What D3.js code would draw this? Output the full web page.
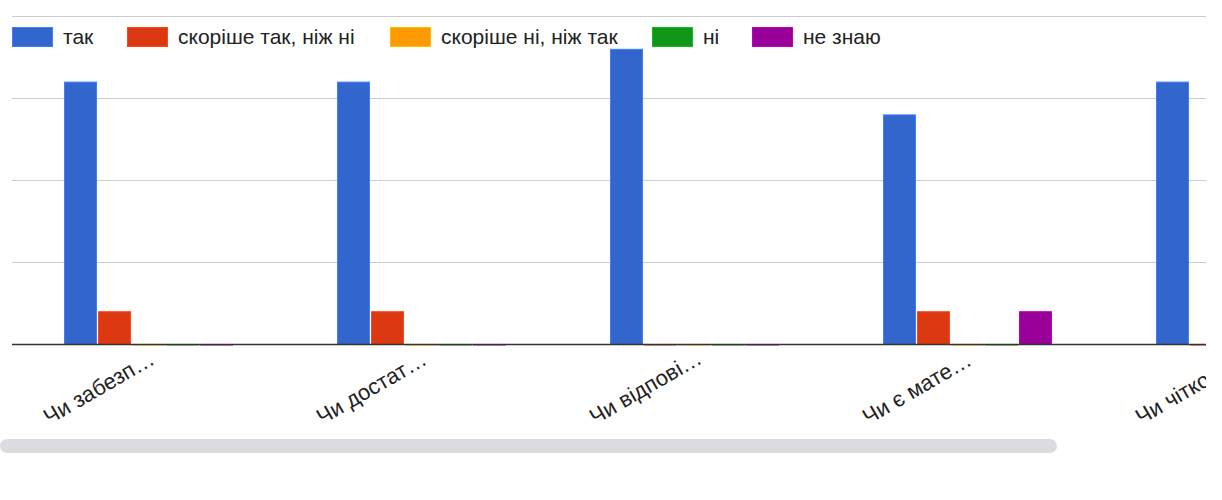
<!DOCTYPE html>
<html><head><meta charset="utf-8">
<script src="https://cdn.jsdelivr.net/npm/d3@7"></script>
<style>body{margin:0;background:#fff;} svg{display:block;font-family:"Liberation Sans",Arial,sans-serif;}</style>
</head><body>
<svg id="c" width="1222" height="500"></svg>
<script>
const categories = ["Чи забезп…", "Чи достат…", "Чи відпові…", "Чи є мате…", "Чи чітко…"];
const seriesNames = ["так", "скоріше так, ніж ні", "скоріше ні, ніж так", "ні", "не знаю"];
const seriesColors = ["#3366cc", "#dc3912", "#ff9900", "#109618", "#990099"];
const valuesTak = [8, 8, 9, 7, 8];
const valuesRatherYes = [1, 1, 0, 1, 0];
const valuesRatherNo = [0, 0, 0, 0, 0];
const valuesNo = [0, 0, 0, 0, 0];
const valuesDontKnow = [0, 0, 0, 1, 0];
const yTicks = [0, 2.5, 5, 7.5, 10];

const seriesValues = [valuesTak, valuesRatherYes, valuesRatherNo, valuesNo, valuesDontKnow];
const svg = d3.select("#c");
const plotL = 12, plotR = 1206, plotT = 16, plotB = 344;

const y = d3.scaleLinear().domain([0, 10]).range([plotB, plotT]);
const step = 273, groupW = 170;
const pInner = (step - groupW) / step;
const pOuter = (64 - plotL) / step;
const x = d3.scaleBand().domain(categories)
  .range([plotL, plotL + step * (categories.length - pInner + 2 * pOuter)])
  .paddingInner(pInner).paddingOuter(pOuter);
const xs = d3.scaleBand().domain(seriesNames).range([0, x.bandwidth()]);

svg.append("defs").append("clipPath").attr("id", "clip")
  .append("rect").attr("x", plotL).attr("y", 0).attr("width", plotR - plotL).attr("height", 500);

// gridlines
svg.append("g").selectAll("line").data(yTicks.filter(t => t > 0)).join("line")
  .attr("x1", plotL).attr("x2", plotR)
  .attr("y1", d => Math.round(y(d)) + 0.5).attr("y2", d => Math.round(y(d)) + 0.5)
  .attr("stroke", "#cccccc").attr("stroke-width", 1);

const plot = svg.append("g").attr("clip-path", "url(#clip)");
const rows = [];
categories.forEach((c, i) => seriesNames.forEach((s, j) => rows.push({c, s, j, v: seriesValues[j][i]})));
plot.selectAll("rect.bar").data(rows).join("rect").attr("class", "bar")
  .attr("x", d => x(d.c) + xs(d.s) + 0.5)
  .attr("width", xs.bandwidth() - 2)
  .attr("y", d => y(d.v) + 0.5)
  .attr("height", d => Math.max(0.5, y(0) - y(d.v)))
  .attr("fill", d => seriesColors[d.j])
  .attr("stroke", d => d3.color(seriesColors[d.j]).brighter(0.6))
  .attr("stroke-width", 1);

// baseline
svg.append("line").attr("x1", plotL).attr("x2", plotR)
  .attr("y1", y(0) + 0.5).attr("y2", y(0) + 0.5)
  .attr("stroke", "#333333").attr("stroke-width", 1.5);

// x labels
const labG = svg.append("g").attr("clip-path", "url(#clip)");
labG.selectAll("text").data(categories).join("text")
  .attr("transform", d => `translate(${x(d) - 15},${425}) rotate(-30)`)
  .attr("text-anchor", "start")
  .attr("font-size", 22).attr("fill", "#222222")
  .text(d => d);

// legend
const legX = [12, 127, 390, 652, 752];
const leg = svg.append("g");
seriesNames.forEach((s, j) => {
  leg.append("rect").attr("x", legX[j] + 0.5).attr("y", 27.5).attr("width", 40).attr("height", 19)
    .attr("fill", seriesColors[j]).attr("stroke", d3.color(seriesColors[j]).brighter(0.6));
  leg.append("text").attr("x", legX[j] + 51).attr("y", 44)
    .attr("font-size", 21).attr("fill", "#222222").text(s);
});

// scrollbar
svg.append("rect").attr("x", 0).attr("y", 439).attr("width", 1057).attr("height", 14)
  .attr("rx", 7).attr("fill", "#dadce0");
</script>
</body></html>
